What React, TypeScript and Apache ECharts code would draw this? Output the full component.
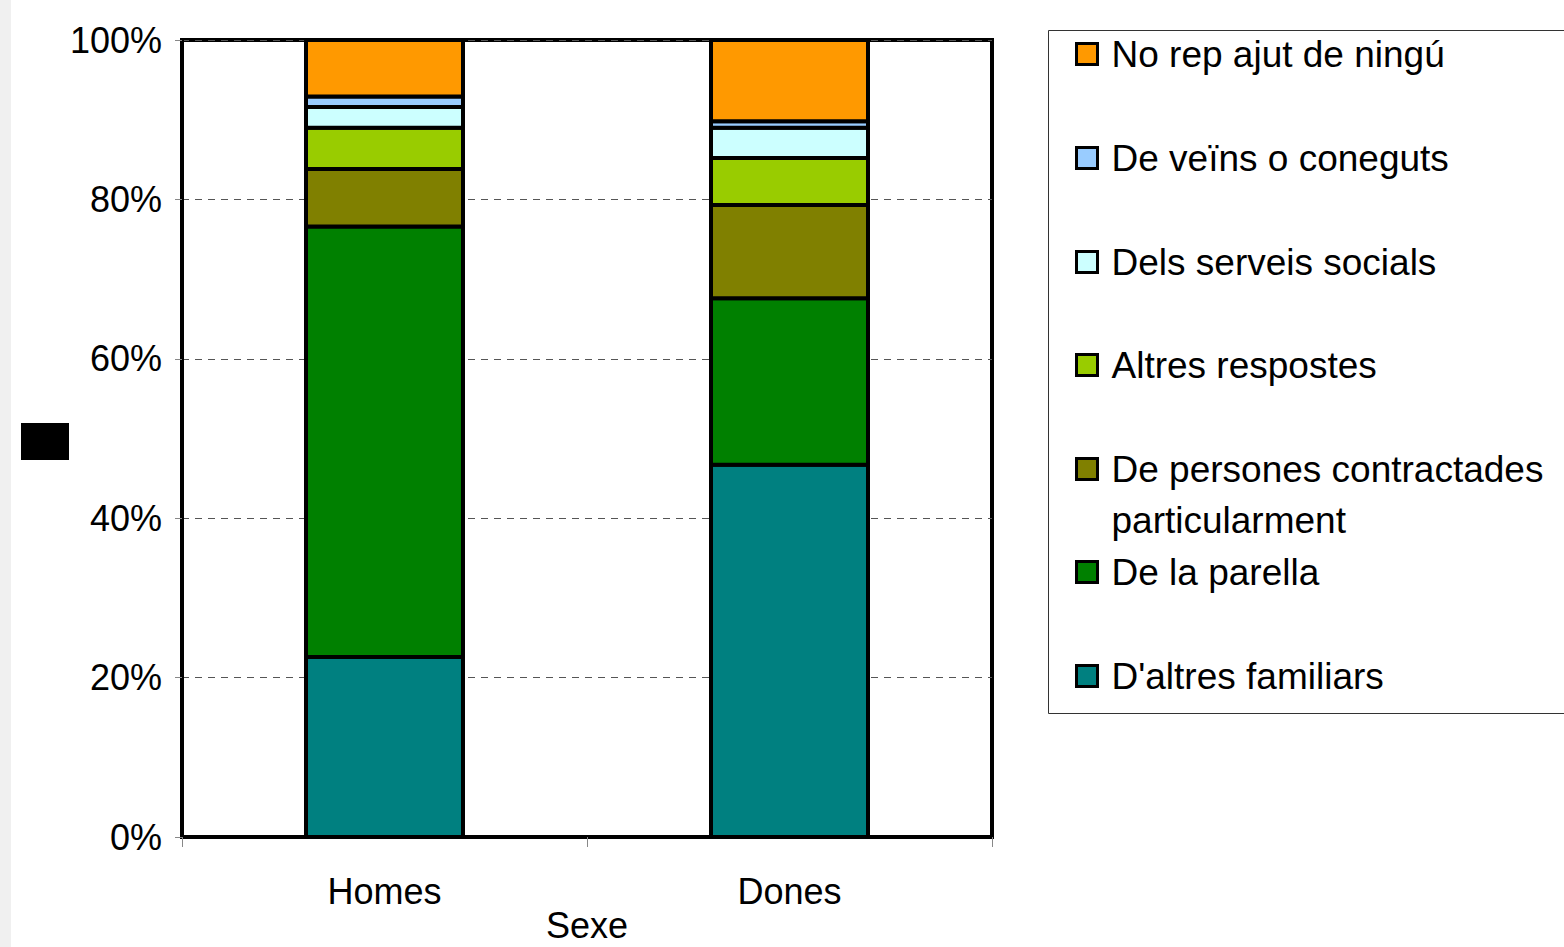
import React, { useEffect, useRef } from "react";
import * as echarts from "echarts";

const categories = ["Homes", "Dones"];
const seriesNames = [
  "D'altres familiars",
  "De la parella",
  "De persones contractades particularment",
  "Altres respostes",
  "Dels serveis socials",
  "De veïns o coneguts",
  "No rep ajut de ningú",
];
const seriesColors = ["#008080", "#008000", "#808000", "#99CC00", "#CCFFFF", "#99CCFF", "#FF9900"];
const familiars = [22.6, 46.7];
const parella = [54.0, 20.9];
const contractades = [7.2, 11.7];
const altres = [5.2, 5.9];
const serveis = [2.6, 3.8];
const veins = [1.3, 0.8];
const noRep = [7.1, 10.2];
const seriesValues = [familiars, parella, contractades, altres, serveis, veins, noRep];
const yTicks = [0, 20, 40, 60, 80, 100];

// legend order top->bottom and icon centre y
const legendOrder = [6, 5, 4, 3, 2, 1, 0];
const legendCenters = [54, 158, 262, 365, 469, 572, 676];

const FONT = "'Liberation Sans', Arial, sans-serif";
const BAR_W = 157;

export default function App() {
  const ref = useRef<HTMLDivElement>(null);
  useEffect(() => {
    if (!ref.current) return;
    const chart = echarts.init(ref.current, null, { renderer: "svg" });

    // stacked [category, low, high] items built from the value arrays
    const bases = categories.map(() => 0);
    const stackedData = seriesValues.map((vals) =>
      vals.map((v, ci) => {
        const lo = bases[ci];
        bases[ci] = lo + v;
        return [ci, lo, lo + v];
      })
    );

    const legends = legendOrder.map((si, i) => {
      const name = seriesNames[si];
      const multi = si === 2;
      return {
        show: true,
        orient: "vertical",
        left: 1075,
        top: multi ? legendCenters[i] - 76.5 : legendCenters[i] - 18.5,
        padding: 0,
        icon: "rect",
        itemWidth: 21,
        itemHeight: 21,
        selectedMode: false,
        data: [name],
        itemStyle: { color: seriesColors[si], borderColor: "#000", borderWidth: 3 },
        formatter: multi ? () => " \nDe persones contractades\nparticularment" : undefined,
        textStyle: {
          fontFamily: FONT,
          fontSize: 37,
          color: "#000",
          padding: [0, 0, 0, 9],
          lineHeight: multi ? 51 : 37,
        },
      };
    });
    chart.setOption({
      animation: false,
      backgroundColor: "#fff",
      grid: {
        left: 182,
        top: 40,
        width: 810,
        height: 797,
        outerBoundsMode: "none",
        containLabel: false,
        show: true,
        borderColor: "#000",
        borderWidth: 4,
        backgroundColor: "#fff",
      },
      legend: legends,
      xAxis: {
        type: "category",
        data: categories,
        name: "Sexe",
        nameLocation: "middle",
        nameGap: 70,
        nameMoveOverlap: false,
        nameTextStyle: { fontFamily: FONT, fontSize: 36, color: "#000" },
        axisLine: { lineStyle: { color: "#000", width: 4 } },
        axisTick: { show: true, length: 10, lineStyle: { color: "#888", width: 1 } },
        axisLabel: { fontFamily: FONT, fontSize: 36, color: "#000", margin: 36 },
      },
      yAxis: {
        type: "value",
        min: yTicks[0],
        max: yTicks[yTicks.length - 1],
        interval: 20,
        axisLine: { show: true, lineStyle: { color: "#000", width: 4 } },
        axisTick: { show: true, length: 7, lineStyle: { color: "#888", width: 1 } },
        axisLabel: { fontFamily: FONT, fontSize: 36, color: "#000", margin: 20, formatter: "{value}%" },
        splitLine: { show: true, lineStyle: { color: "#555", width: 1, type: [7, 6] } },
      },
      series: seriesNames.map((name, i) => ({
        name,
        type: "custom",
        data: stackedData[i],
        encode: { x: 0, y: [1, 2] },
        itemStyle: { color: seriesColors[i] },
        renderItem: (params: any, api: any) => {
          const ci = api.value(0);
          const lo = api.value(1);
          const hi = api.value(2);
          const p0 = api.coord([ci, lo]);
          const p1 = api.coord([ci, hi]);
          return {
            type: "rect",
            shape: { x: p0[0] - BAR_W / 2, y: p1[1], width: BAR_W, height: p0[1] - p1[1] },
            style: { fill: seriesColors[i], stroke: "#000", lineWidth: 4 },
          };
        },
      })),
      graphic: [
        { type: "rect", x: 0, y: 0, shape: { x: 0, y: 0, width: 11, height: 947 }, style: { fill: "#f0f0f0" }, silent: true },
        { type: "rect", x: 21, y: 423, shape: { x: 0, y: 0, width: 48, height: 37 }, style: { fill: "#000" }, silent: true },
        {
          type: "rect",
          x: 1048.5,
          y: 30.5,
          shape: { x: 0, y: 0, width: 600, height: 683 },
          style: { fill: "none", stroke: "#333", lineWidth: 1 },
          silent: true,
        },
      ],
    });
    return () => chart.dispose();
  }, []);
  return <div ref={ref} style={{ position: "fixed", left: 0, top: 0, width: 1564, height: 947 }} />;
}
